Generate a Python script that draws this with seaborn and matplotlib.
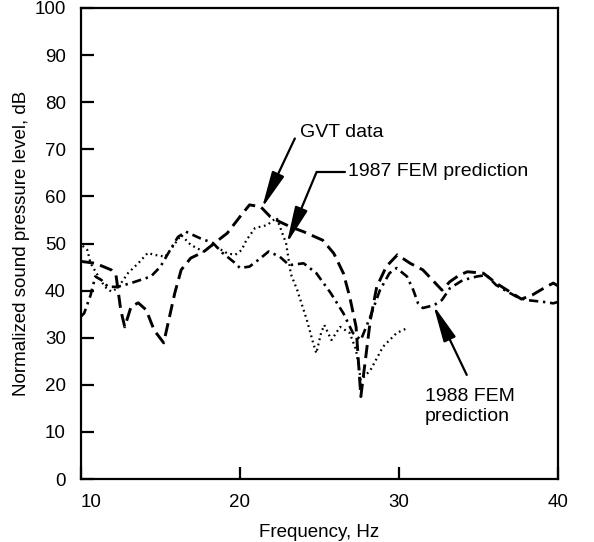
import numpy as np
import pandas as pd
import matplotlib
matplotlib.use("Agg")
import matplotlib.pyplot as plt
import seaborn as sns

# ---- data ----
gvt_x = [10.0, 10.9, 11.9, 12.2, 12.5, 12.75, 13.15, 13.6, 14.1, 14.6, 15.2, 15.9, 16.3, 16.9,
         17.7, 18.4, 19.2, 20.0, 20.6, 21.3, 21.9, 22.5, 23.2, 24.0, 25.2, 25.9, 26.5, 26.9,
         27.3, 27.6, 28.2, 28.6, 29.2, 29.9, 30.7, 31.5, 32.2, 32.7, 33.2, 33.8, 34.3, 35.3,
         36.1, 36.8, 37.7, 38.4, 39.1, 39.7, 40.0]
gvt_y = [46.2, 45.8, 44.4, 43.3, 35.9, 32.3, 36.6, 37.4, 35.9, 31.6, 28.9, 39.5, 44.4, 46.9,
         48.2, 50.1, 52.2, 55.7, 58.2, 57.8, 55.7, 54.6, 53.5, 52.5, 50.7, 47.9, 43.7, 38.7,
         32.3, 17.5, 33.8, 40.8, 45.1, 47.6, 45.8, 44.4, 41.9, 40.1, 41.9, 43.3, 44.0, 43.7,
         41.6, 40.1, 38.2, 39.1, 40.5, 41.6, 41.0]

fem87_x = [10.1, 10.4, 10.6, 11.1, 11.5, 11.9, 12.3, 12.95, 13.6, 14.2, 14.6, 15.3, 15.7, 16.3,
           16.9, 17.7, 18.3, 19.2, 19.7, 20.1, 20.4, 20.95, 21.7, 22.3, 22.9, 23.2, 23.6, 24.2,
           24.6, 24.8, 25.1, 25.3, 25.75, 26.3, 26.9, 27.3, 27.6, 28.2, 29.0, 29.85, 30.5]
fem87_y = [49.5, 48.6, 45.8, 43.0, 40.8, 39.8, 40.5, 43.7, 45.8, 48.0, 47.6, 47.2, 49.0, 51.8,
           49.7, 48.3, 49.7, 47.9, 47.6, 48.6, 50.7, 53.3, 53.9, 55.5, 50.0, 43.5, 40.1, 33.8,
           28.9, 26.7, 31.0, 32.7, 29.5, 32.3, 31.0, 27.4, 21.0, 23.1, 28.1, 31.0, 32.0]

fem88_x = [10.0, 10.2, 10.6, 10.9, 11.3, 11.7, 12.3, 13.15, 14.4, 15.0, 15.5, 16.1, 16.6, 17.5,
           18.3, 18.9, 19.6, 20.0, 20.6, 21.3, 21.8, 22.5, 23.1, 24.0, 24.8, 25.7, 26.5, 27.1,
           27.6, 28.2, 28.8, 29.4, 29.85, 30.5, 30.9, 31.2, 31.5, 32.2, 32.7, 33.2, 34.0, 34.9,
           35.5, 36.1, 36.8, 37.4, 38.0, 39.1, 39.7, 40.0]
fem88_y = [34.5, 35.2, 39.0, 43.0, 42.2, 40.8, 40.8, 41.6, 43.0, 45.1, 48.0, 51.4, 52.5, 51.1,
           50.1, 48.0, 46.1, 44.8, 45.1, 46.9, 48.3, 47.2, 45.4, 45.8, 43.7, 39.5, 35.2, 31.0,
           29.5, 34.5, 40.1, 43.7, 44.8, 43.0, 40.1, 37.3, 36.3, 36.9, 38.0, 40.5, 42.2, 43.0,
           43.3, 41.2, 39.8, 38.7, 38.0, 37.6, 37.3, 37.6]

x_ticks = [10, 20, 30, 40]
y_ticks = [0, 10, 20, 30, 40, 50, 60, 70, 80, 90, 100]

sns.set_theme(style="ticks")
plt.rcParams["font.family"] = ["Liberation Sans", "DejaVu Sans"]

fig = plt.figure(figsize=(5.94, 5.42), dpi=100)
ax = fig.add_axes([81 / 594, 63 / 542, 477 / 594, 471 / 542])

sns.lineplot(x=gvt_x, y=gvt_y, ax=ax, color="black", lw=2.1,
             linestyle=(0, (4.5, 2.2)), estimator=None, sort=False)
sns.lineplot(x=fem87_x, y=fem87_y, ax=ax, color="black", lw=1.6,
             linestyle=(0, (0.8, 1.6)), estimator=None, sort=False)
sns.lineplot(x=fem88_x, y=fem88_y, ax=ax, color="black", lw=1.9,
             linestyle=(0, (3.5, 1.8, 0.9, 1.8)), estimator=None, sort=False)

ax.set_xlim(10, 40)
ax.set_ylim(0, 100)
ax.set_xticks(x_ticks)
ax.set_yticks(y_ticks)
ax.set_xticklabels([str(t) for t in x_ticks])
ax.set_yticklabels([str(t) for t in y_ticks])
ax.tick_params(axis="both", direction="in", length=9, width=1.6, labelsize=13.5,
               colors="black", top=False, right=False)
ax.tick_params(axis="x", pad=11)
ax.tick_params(axis="y", pad=11)
ax.get_xticklabels()[0].set_horizontalalignment("left")
for s in ax.spines.values():
    s.set_visible(True)
    s.set_linewidth(1.6)
    s.set_color("black")

ax.set_xlabel("Frequency, Hz", fontsize=13.5, color="black", labelpad=9)
ax.set_ylabel("Normalized sound pressure level, dB", fontsize=13.5, color="black", labelpad=3)

arrow_kw = dict(arrowstyle="-|>,head_length=1.4,head_width=0.25", color="black",
                lw=1.6, mutation_scale=16, shrinkA=0, shrinkB=0)

# GVT data
ax.text(23.77, 73.5, "GVT data", fontsize=14, ha="left", va="center", color="black")
ax.annotate("", xy=(21.38, 57.5), xytext=(23.45, 72.3), arrowprops=arrow_kw)

# 1987 FEM prediction
ax.text(26.79, 65.2, "1987 FEM prediction", fontsize=14, ha="left", va="center", color="black")
ax.plot([24.82, 26.6], [65.2, 65.2], color="black", lw=1.6)
ax.annotate("", xy=(22.94, 50.0), xytext=(24.82, 65.2), arrowprops=arrow_kw)

# 1988 FEM prediction
ax.text(31.64, 15.4, "1988 FEM\nprediction", fontsize=14, ha="left", va="center",
        color="black", linespacing=1.25)
ax.annotate("", xy=(32.16, 36.9), xytext=(34.26, 22.1), arrowprops=arrow_kw)

fig.savefig("out.png", dpi=100)
